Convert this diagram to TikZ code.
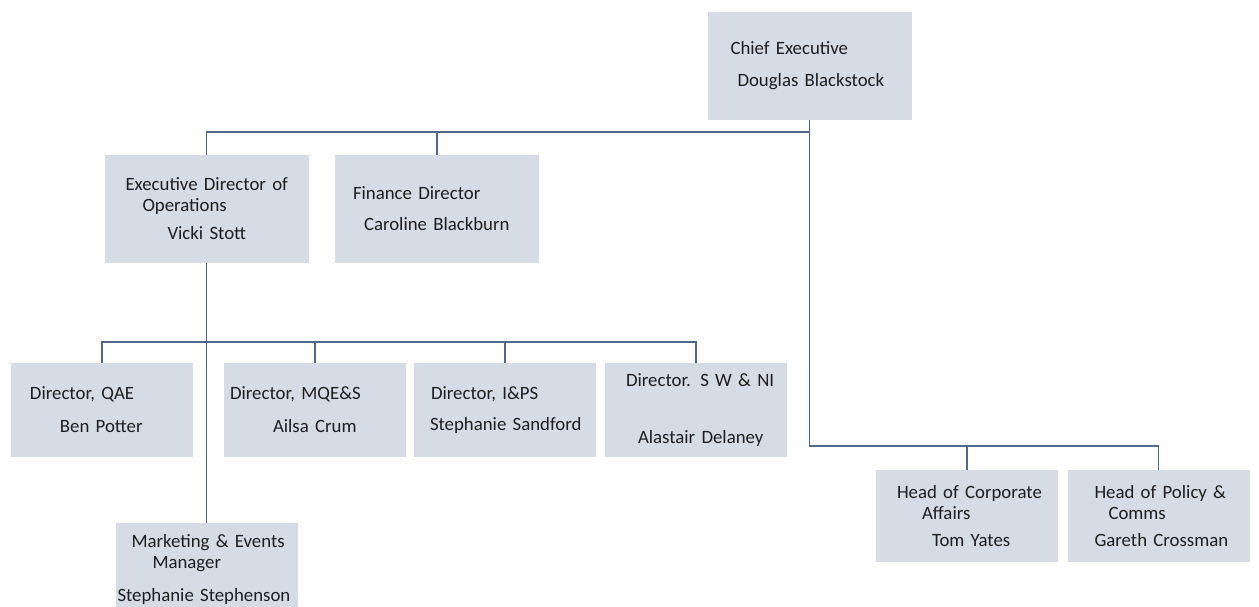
\documentclass[tikz,border=0pt]{standalone}
\usepackage{fontspec}
\setmainfont{Carlito}
\usepackage{tikz}
\usetikzlibrary{positioning, calc}
\definecolor{boxfill}{HTML}{D6DCE5}
\definecolor{linkcol}{HTML}{50698A}
\definecolor{txt}{HTML}{1E1E1E}

\begin{document}
\begin{tikzpicture}[
  x=1pt, y=-1pt,
  font=\fontsize{18.8}{21}\selectfont,
  post/.style={fill=boxfill, draw=none, inner sep=0pt, align=left,
               text=txt, minimum height=108pt},
  bigpost/.style={post, text width=204pt},
  smallpost/.style={post, text width=182pt, minimum height=94pt},
  link/.style={draw=linkcol, line width=1.1pt}
]
\useasboundingbox (0,0) rectangle (1259,607);

% ---- Top level ----
\node[bigpost] (ceo) at (809.5,66)
  {\hspace*{23pt}Chief Executive\\[11pt]\hspace*{30pt}Douglas Blackstock};

% ---- Second level ----
\node[bigpost] (edo) at (206.5,209)
  {\hspace*{21pt}Executive Director of\\\hspace*{38pt}Operations\\[7pt]
   \hspace*{63pt}Vicki Stott};
\node[bigpost] (fin) at (437,209)
  {\hspace*{18pt}Finance Director\\[10pt]\hspace*{29pt}Caroline Blackburn};

% ---- Directors under operations ----
\node[smallpost] (qae)  at (102,410)
  {\hspace*{19pt}Director, QAE\\[12pt]\hspace*{49pt}Ben Potter};
\node[smallpost] (mqe)  at (315,410)
  {\hspace*{6pt}Director, MQE\&S\\[12pt]\hspace*{49pt}Ailsa Crum};
\node[smallpost] (ips)  at (505,410)
  {\hspace*{17pt}Director, I\&PS\\[10pt]\hspace*{16pt}Stephanie Sandford};
\node[smallpost] (swni) at (696,410)
  {\hspace*{21pt}Director. S W \& NI\\[36pt]\hspace*{33pt}Alastair Delaney};

\node[smallpost, minimum height=92pt] (mkt) at (206.5,569)
  {\hspace*{16pt}Marketing \& Events\\\hspace*{37pt}Manager\\[12pt]
   \hspace*{2pt}Stephanie Stephenson};

% ---- Heads under chief executive ----
\node[smallpost, minimum height=92pt] (corp) at (967,516)
  {\hspace*{21pt}Head of Corporate\\\hspace*{46pt}Affairs\\[6pt]
   \hspace*{56pt}Tom Yates};
\node[smallpost, minimum height=92pt] (pol) at (1158.5,516)
  {\hspace*{27pt}Head of Policy \&\\\hspace*{41pt}Comms\\[6pt]
   \hspace*{27pt}Gareth Crossman};

% ---- Connectors ----
\coordinate (bus1) at (809.5,132);
\coordinate (bus2) at (206.5,342);
\coordinate (bus3) at (809.5,446);

\draw[link] (ceo.south) -- (bus1) -| (edo.north);
\draw[link] (bus1) -| (fin.north);
\draw[link] (bus1) -- (bus3) -| (corp.north);
\draw[link] (bus3) -| (pol.north);

\draw[link] (edo.south) -- (mkt.north);
\draw[link] (bus2) -| (qae.north);
\draw[link] (bus2) -| (mqe.north);
\draw[link] (bus2) -| (ips.north);
\draw[link] (bus2) -| (swni.north);

\end{tikzpicture}
\end{document}
